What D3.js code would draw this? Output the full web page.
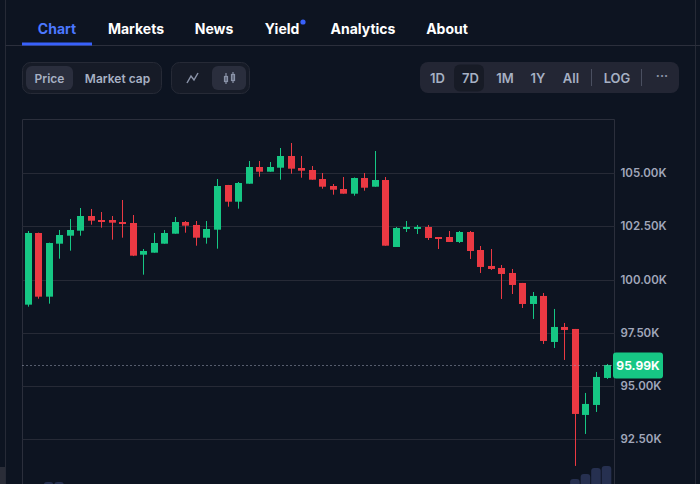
<!DOCTYPE html>
<html><head><meta charset="utf-8">
<script src="https://cdn.jsdelivr.net/npm/d3@7"></script>
<style>
html,body{margin:0;padding:0;background:#0d1421;overflow:hidden;}
svg{display:block;font-family:Inter,"Noto Sans",sans-serif;}
</style></head>
<body>
<svg id="c" width="700" height="484"></svg>
<script>
const navItems = ["Chart","Markets","News","Yield","Analytics","About"];
const rangeButtons = ["1D","7D","1M","1Y","All"];
const opens  = [98820,102184,99195,101682,102057,102292,102982,102794,102794,102700,102653,101166,101260,101682,102151,102700,102560,101964,102339,104437,103653,104498,105282,105061,105249,105798,105235,105141,104718,104390,104249,104029,104765,104357,104671,101527,102372,102372,102466,101996,101996,101762,102231,101386,100636,100542,100307,99838,98852,99228,97069,97773,97679,93643,94112,95379];
const highs  = [102278,102200,101730,102325,102841,103357,103311,103170,102982,103733,103029,101433,102184,102325,102935,102747,102747,102747,104718,104440,104578,105563,105563,105516,106173,106408,105798,105329,105000,104484,104812,104790,105000,106032,104812,102466,102747,102560,102560,101996,102278,102278,102278,101574,101433,100682,100495,99840,99415,99368,98618,97960,97680,94675,95661,96036];
const lows   = [98725,99100,98866,100978,101354,102057,102574,102433,101870,101964,101100,100227,101260,101682,102151,102198,101588,101682,101447,103418,103325,104498,104826,105061,104686,104967,104779,104686,104263,103982,104029,103935,104169,104357,101588,101527,102231,102137,101856,101433,101762,101715,100964,100307,100448,99087,99321,98664,98148,96975,96787,96224,91250,92751,93784,95332];
const closes = [102184,99195,101715,102090,102325,102982,102761,102700,102668,102607,101119,101339,101715,102184,102700,102527,101964,102372,104390,103653,104531,105282,105061,105282,105798,105202,105108,104686,104357,104216,104029,104765,104310,104671,101588,102419,102466,102466,101950,101950,101762,102231,101339,100589,100495,100260,99744,98852,99228,97116,97773,97632,93690,94159,95426,95989];
const volumes = [14,15,18,18,12,12,10,9,10,11,13,12,11,11,11,9,10,10,15,12,12,13,10,9,12,13,10,9,10,9,9,10,10,12,16,13,10,9,9,9,9,9,11,12,10,12,12,13,13,15,14,13,21,26,32,34];
const yTicks = [92500,95000,97500,100000,102500,105000];
const lastPrice = 95990;

const GREEN = "#16c784", RED = "#ea3943";
const svg = d3.select("#c");

// frame lines
svg.append("line").attr("x1",5.5).attr("x2",5.5).attr("y1",0).attr("y2",484).attr("stroke","#262a36");
svg.append("line").attr("x1",695.5).attr("x2",695.5).attr("y1",0).attr("y2",484).attr("stroke","#262a36");
svg.append("line").attr("x1",5.5).attr("x2",700).attr("y1",45.5).attr("y2",45.5).attr("stroke","#2b2f3c");
svg.append("rect").attr("x",0).attr("y",467).attr("width",5).attr("height",17).attr("fill","#2a2d38");

// nav
const navX = [57,136,214,282,363,447];
navItems.forEach((t,i)=>{
  svg.append("text").attr("x",navX[i]).attr("y",34).attr("text-anchor","middle")
    .attr("font-size",14).attr("font-weight",700)
    .attr("fill", i===0 ? "#4c78ff" : "#ffffff").text(t);
});
svg.append("circle").attr("cx",303).attr("cy",22).attr("r",2.6).attr("fill","#3861fb");
svg.append("rect").attr("x",22).attr("y",42.5).attr("width",70).attr("height",3).attr("fill","#3861fb");

// toolbar groups
function group(x,y,w,h,fill,stroke){
  svg.append("rect").attr("x",x).attr("y",y).attr("width",w).attr("height",h).attr("rx",8)
    .attr("fill",fill).attr("stroke",stroke||"none");
}
group(22.5,62.5,139,31,"#161b27","#262a36");
svg.append("rect").attr("x",26).attr("y",66).attr("width",47).attr("height",24).attr("rx",6).attr("fill","#2a2e3d");
svg.append("text").attr("x",49.5).attr("y",82.5).attr("text-anchor","middle").attr("font-size",12).attr("font-weight",600).attr("fill","#a6b0c3").text("Price");
svg.append("text").attr("x",117.5).attr("y",82.5).attr("text-anchor","middle").attr("font-size",12).attr("font-weight",600).attr("fill","#a6b0c3").text("Market cap");

group(171.5,62.5,78,31,"#161b27","#262a36");
svg.append("rect").attr("x",212).attr("y",66).attr("width",34).attr("height",24).attr("rx",6).attr("fill","#2a2e3d");
svg.append("path").attr("d","M187,83 L191,76 L194,80 L198,73").attr("fill","none").attr("stroke","#8a93a8").attr("stroke-width",1.5);
// candle icon
svg.append("rect").attr("x",224.5).attr("y",76.5).attr("width",3).attr("height",5).attr("fill","none").attr("stroke","#8a93a8").attr("stroke-width",1.2);
svg.append("line").attr("x1",226).attr("x2",226).attr("y1",73).attr("y2",84).attr("stroke","#8a93a8").attr("stroke-width",1.2);
svg.append("rect").attr("x",231.5).attr("y",74.5).attr("width",3).attr("height",6).attr("fill","none").attr("stroke","#8a93a8").attr("stroke-width",1.2);
svg.append("line").attr("x1",233).attr("x2",233).attr("y1",72).attr("y2",83).attr("stroke","#8a93a8").attr("stroke-width",1.2);

group(420,62,259,31,"#232634");
svg.append("rect").attr("x",454).attr("y",64.5).attr("width",30).attr("height",27).attr("rx",6).attr("fill","#171b26");
const rbX = [437.5,470.5,505,538,571];
rangeButtons.forEach((t,i)=>{
  svg.append("text").attr("x",rbX[i]).attr("y",82.5).attr("text-anchor","middle").attr("font-size",13).attr("font-weight",600)
    .attr("fill", "#a6b0c3").text(t);
});
svg.append("line").attr("x1",591.5).attr("x2",591.5).attr("y1",69).attr("y2",86).attr("stroke","#4a4f60");
svg.append("text").attr("x",617).attr("y",82.5).attr("text-anchor","middle").attr("font-size",13).attr("font-weight",600).attr("fill","#a6b0c3").text("LOG");
svg.append("line").attr("x1",641.5).attr("x2",641.5).attr("y1",69).attr("y2",86).attr("stroke","#4a4f60");
svg.append("text").attr("x",662).attr("y",80).attr("text-anchor","middle").attr("font-size",13).attr("font-weight",600).attr("fill","#8a93a8").text("···");

// chart area
const L = 22.5, R = 614.5, T = 119.5, B = 484;
const x = d3.scaleLinear().domain([0, closes.length-1]).range([27.5, 606.5]);
const y = d3.scaleLinear().domain([92500,105000]).range([439.3,173]);
const yv = d3.scaleLinear().domain([0,50]).range([500,450]);

svg.append("line").attr("x1",L).attr("x2",R).attr("y1",T).attr("y2",T).attr("stroke","#2b2f3c");
svg.append("line").attr("x1",L).attr("x2",L).attr("y1",T).attr("y2",B).attr("stroke","#2b2f3c");
svg.append("line").attr("x1",R).attr("x2",R).attr("y1",T).attr("y2",B).attr("stroke","#2b2f3c");

svg.append("g").selectAll("line").data(yTicks).join("line")
  .attr("x1",L).attr("x2",R).attr("y1",d=>Math.round(y(d))+0.5).attr("y2",d=>Math.round(y(d))+0.5)
  .attr("stroke","#262a36");

const yAxis = d3.axisRight(y).tickValues(yTicks).tickSize(0).tickPadding(6)
  .tickFormat(d=>(d/1000).toFixed(2)+"K");
const ga = svg.append("g").attr("transform",`translate(${R},0)`).call(yAxis);
ga.select(".domain").remove();
ga.selectAll("text").attr("fill","#a1a7bb").attr("font-size",11.5).attr("font-weight",600).attr("font-family","Inter,sans-serif");

const clip = svg.append("clipPath").attr("id","pc").append("rect").attr("x",L+0.5).attr("y",T+0.5).attr("width",R-L-1).attr("height",B-T);
const plot = svg.append("g").attr("clip-path","url(#pc)");

const idx = d3.range(closes.length);
// volume
plot.append("g").selectAll("path").data(idx).join("path")
  .attr("fill","#263050")
  .attr("d", i=>{
    const x0 = x(i)-4.8, w = 9.6, top = yv(volumes[i]), r = 3;
    return `M${x0},${B+5} L${x0},${top+r} Q${x0},${top} ${x0+r},${top} L${x0+w-r},${top} Q${x0+w},${top} ${x0+w},${top+r} L${x0+w},${B+5} Z`;
  });

// wicks
plot.append("g").selectAll("line").data(idx).join("line")
  .attr("x1",i=>Math.round(x(i))+0.5).attr("x2",i=>Math.round(x(i))+0.5)
  .attr("y1",i=>y(highs[i])).attr("y2",i=>y(lows[i]))
  .attr("stroke",i=>closes[i]>=opens[i]?GREEN:RED).attr("stroke-width",1);
// bodies
plot.append("g").selectAll("rect").data(idx).join("rect")
  .attr("x",i=>Math.round(x(i))-3).attr("width",7)
  .attr("y",i=>y(Math.max(opens[i],closes[i])))
  .attr("height",i=>Math.max(2, Math.abs(y(opens[i])-y(closes[i]))))
  .attr("fill",i=>closes[i]>=opens[i]?GREEN:RED);

// last price line
const ly = Math.round(y(lastPrice))+0.5;
svg.append("line").attr("x1",L).attr("x2",R).attr("y1",ly).attr("y2",ly)
  .attr("stroke","#a1a7bb").attr("stroke-dasharray","1,3").attr("stroke-width",1);
svg.append("rect").attr("x",613).attr("y",ly-13).attr("width",50).attr("height",26).attr("rx",3).attr("fill",GREEN);
svg.append("text").attr("x",638).attr("y",ly+4.5).attr("text-anchor","middle").attr("font-size",12).attr("font-weight",700)
  .attr("fill","#ffffff").text((lastPrice/1000).toFixed(2)+"K");
</script>
</body></html>
